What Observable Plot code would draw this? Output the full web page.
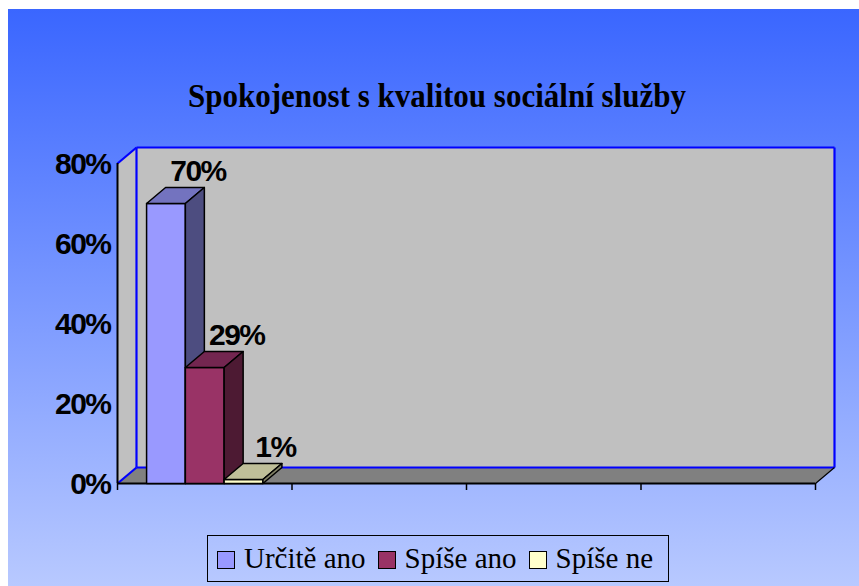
<!DOCTYPE html>
<html><head><meta charset="utf-8">
<script src="https://cdn.jsdelivr.net/npm/d3@7"></script>
<script src="https://cdn.jsdelivr.net/npm/@observablehq/plot@0.6"></script>
<style>
body{margin:0;background:#fff;width:859px;height:586px;overflow:hidden;position:relative}
#bg{position:absolute;left:8px;top:9px;width:851px;height:577px;background:linear-gradient(#3A66FF,#B8C9FF)}
#chart{position:absolute;left:0;top:0}
#chart svg{overflow:visible;background:transparent}
#title{position:absolute;left:0;width:874px;top:81px;text-align:center;font:bold 31px/31px "Liberation Serif",serif;color:#000;white-space:nowrap;transform:scaleY(1.08);transform-origin:50% 26px}
#legend{position:absolute;left:207px;top:535px;width:462px;height:47px;border:1.5px solid #000;box-sizing:border-box;display:flex;align-items:center;padding-left:9px;font:29px "Liberation Serif",serif;color:#000;white-space:nowrap}
#legend .sw{width:18px;height:18px;border:1.5px solid #000;box-sizing:border-box;margin-right:9px;margin-top:2px}
#legend .it{display:flex;align-items:center;margin-right:12px}
</style></head>
<body>
<div id="bg"></div>
<div id="title"></div>
<div id="chart"></div>
<div id="legend"></div>
<script>
// ---- data ----
const titleText = "Spokojenost s kvalitou sociální služby";
const series = ["Určitě ano", "Spíše ano", "Spíše ne"];
const values = [70, 29, 1];
const categories = ["", "", "", ""];   // four category slots, only the first holds data
const yTicks = [0, 20, 40, 60, 80];

// ---- styles ----
const frontColors = ["#9999FF", "#993366", "#FFFFCC"];
const topColors   = ["#7373BF", "#732650", "#BFBF99"];
const sideColors  = ["#4D4D80", "#4D1A33", "#808066"];

const nSlots = categories.length;
const yMax = yTicks[yTicks.length - 1];
const pxPerX = (815 - 117) / nSlots;
const ddx = 19 / pxPerX;      // depth offset in x units
const ddy = 16 / 4;           // depth offset in y units (4px per %)
const gapRatio = 1.5;
const w = 1 / (series.length + gapRatio);

const polys = [];
function poly(id, pts, fill) { pts.forEach(([x, y]) => polys.push({id, x, y, fill})); }

const walls = [];
function wall(id, pts, fill) { pts.forEach(([x, y]) => walls.push({id, x, y, fill})); }
wall("back", [[ddx, ddy], [nSlots + ddx, ddy], [nSlots + ddx, yMax + ddy], [ddx, yMax + ddy]], "#C0C0C0");
wall("left", [[0, 0], [ddx, ddy], [ddx, yMax + ddy], [0, yMax]], "#C0C0C0");
wall("floor", [[0, 0], [nSlots, 0], [nSlots + ddx, ddy], [ddx, ddy]], "#808080");

const labels = [];
values.forEach((v, i) => {
  const x1 = w * gapRatio / 2 + i * w, x2 = x1 + w;
  poly("f" + i, [[x1, 0], [x2, 0], [x2, v], [x1, v]], frontColors[i]);
  poly("t" + i, [[x1, v], [x2, v], [x2 + ddx, v + ddy], [x1 + ddx, v + ddy]], topColors[i]);
  poly("s" + i, [[x2, 0], [x2 + ddx, ddy], [x2 + ddx, v + ddy], [x2, v]], sideColors[i]);
  labels.push({x: (x1 + x2) / 2, y: v, text: v + "%"});
});

const blueEdges = [
  {x1: ddx, y1: ddy, x2: nSlots + ddx, y2: ddy},
  {x1: ddx, y1: ddy, x2: ddx, y2: yMax + ddy},
  {x1: ddx, y1: yMax + ddy, x2: nSlots + ddx, y2: yMax + ddy},
  {x1: nSlots + ddx, y1: ddy, x2: nSlots + ddx, y2: yMax + ddy},
  {x1: 0, y1: yMax, x2: ddx, y2: yMax + ddy},
  {x1: 0, y1: 0, x2: ddx, y2: ddy}
];

const chart = Plot.plot({
  width: 859, height: 586,
  marginLeft: 117, marginRight: 44, marginTop: 163, marginBottom: 103,
  style: {background: "transparent", overflow: "visible", color: "#000"},
  x: {type: "linear", domain: [0, nSlots], axis: null},
  y: {domain: [0, yMax], axis: null},
  color: {type: "identity"},
  marks: [
    Plot.line(walls, {x: "x", y: "y", z: "id", fill: "fill", stroke: "none", curve: "linear-closed"}),
    Plot.link(blueEdges, {x1: "x1", y1: "y1", x2: "x2", y2: "y2", stroke: "#0000FF", strokeWidth: 2.2}),
    Plot.link([{x1: nSlots, y1: 0, x2: nSlots + ddx, y2: ddy}], {x1: "x1", y1: "y1", x2: "x2", y2: "y2", stroke: "#000", strokeWidth: 1.2}),
    Plot.axisY({ticks: yTicks, tickSize: 5, tickPadding: 2, tickFormat: d => d + "%", fontSize: 30, fontWeight: "bold", fontFamily: "Liberation Sans, Arial, sans-serif", stroke: null, strokeWidth: 1.5, dy: 1}),
    Plot.axisX({ticks: d3.range(nSlots + 1), tickSize: 7, tickFormat: () => "", strokeWidth: 1.5}),
    Plot.ruleX([0], {y1: 0, y2: yMax, stroke: "#000", strokeWidth: 2}),
    Plot.ruleY([0], {x1: 0, x2: nSlots, stroke: "#000", strokeWidth: 2}),
    Plot.line(polys, {x: "x", y: "y", z: "id", fill: "fill", stroke: "#000", strokeWidth: 1.5, strokeLinejoin: "round", curve: "linear-closed"}),
    Plot.text(labels, {x: "x", y: "y", text: "text", dx: 32, dy: -23, lineAnchor: "bottom", textAnchor: "middle", fontSize: 30, fontWeight: "bold", fontFamily: "Liberation Sans, Arial, sans-serif", fill: "#000"})
  ]
});
document.getElementById("chart").appendChild(chart);
chart.querySelectorAll("text").forEach(t => t.style.letterSpacing = "-1.5px");

document.getElementById("title").textContent = titleText;

const legend = document.getElementById("legend");
series.forEach((s, i) => {
  const it = document.createElement("div"); it.className = "it";
  const sw = document.createElement("div"); sw.className = "sw"; sw.style.background = frontColors[i];
  const tx = document.createElement("span"); tx.textContent = s;
  it.appendChild(sw); it.appendChild(tx); legend.appendChild(it);
});
</script>
</body></html>
